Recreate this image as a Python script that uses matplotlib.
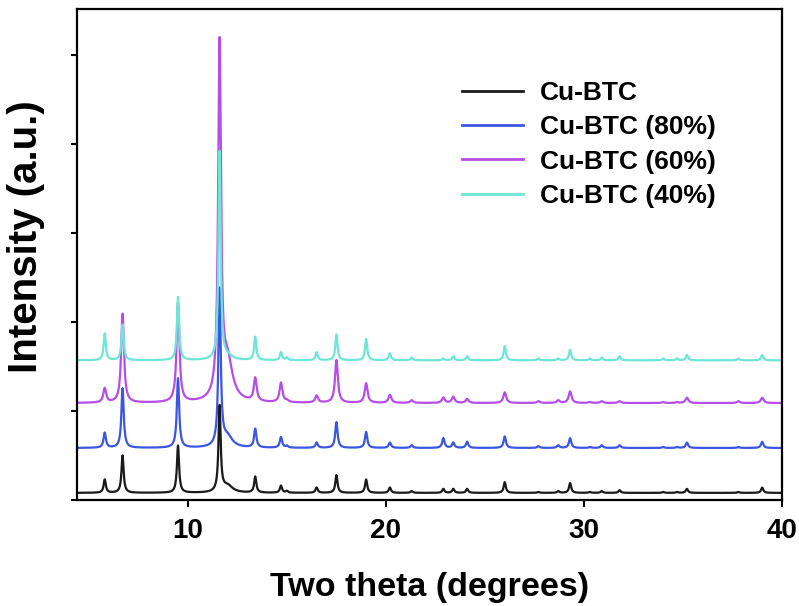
import numpy as np
import matplotlib
matplotlib.use("Agg")
import matplotlib.pyplot as plt

# Peak positions (two theta, degrees) shared by all Cu-BTC patterns
peak_pos = [5.8, 6.7, 9.5, 11.6, 13.4, 14.7, 15.0, 16.5, 17.5, 19.0, 20.2, 21.3,
            22.9, 23.4, 24.1, 26.0, 27.7, 28.7, 29.3, 30.3, 30.9, 31.8, 34.0,
            34.7, 35.2, 37.8, 39.0]

# peak heights (a.u.)
h_cubtc = [0.15, 0.42, 0.53, 0.96, 0.18, 0.08, 0.02, 0.06, 0.20, 0.15, 0.06, 0.02,
           0.045, 0.045, 0.045, 0.12, 0.01, 0.02, 0.11, 0.01, 0.02, 0.03, 0.01,
           0.01, 0.045, 0.01, 0.06]
h_80 = [0.17, 0.67, 0.78, 1.76, 0.21, 0.12, 0.02, 0.06, 0.29, 0.18, 0.06, 0.03,
        0.11, 0.06, 0.07, 0.13, 0.02, 0.03, 0.11, 0.01, 0.03, 0.03, 0.01,
        0.01, 0.06, 0.01, 0.07]
h_60 = [0.16, 1.00, 1.12, 3.95, 0.26, 0.22, 0.02, 0.08, 0.48, 0.22, 0.09, 0.03,
        0.06, 0.07, 0.045, 0.12, 0.02, 0.03, 0.13, 0.01, 0.02, 0.02, 0.01,
        0.01, 0.06, 0.02, 0.06]
h_40 = [0.30, 0.40, 0.71, 2.34, 0.26, 0.09, 0.03, 0.09, 0.29, 0.24, 0.08, 0.03,
        0.02, 0.045, 0.045, 0.16, 0.02, 0.02, 0.12, 0.02, 0.03, 0.045, 0.02,
        0.02, 0.06, 0.02, 0.06]

# broad hump just after the 11.6 peak
tail_pos = 12.0
tail_h = [0.08, 0.12, 0.45, 0.04]

baselines = [0.08, 0.585, 1.09, 1.57]
labels = ["Cu-BTC", "Cu-BTC (80%)", "Cu-BTC (60%)", "Cu-BTC (40%)"]
colors = ["#1a1a1a", "#3b56e0", "#b54ee8", "#6de6d6"]
widths = [0.065, 0.07, 0.085, 0.065]

two_theta = np.arange(4.4, 40.0001, 0.02)


def pattern(heights, w, tail):
    y = np.zeros_like(two_theta)
    for c, h in zip(peak_pos, heights):
        y += h / (1 + ((two_theta - c) / w) ** 2)
    y += tail / (1 + ((two_theta - tail_pos) / 0.3) ** 2)
    return y


fig = plt.figure(figsize=(7.99, 6.06), dpi=100)
ax = fig.add_axes([77 / 799, 1 - 500 / 606, 705 / 799, 491 / 606])

for i, hs in enumerate([h_cubtc, h_80, h_60, h_40]):
    ax.plot(two_theta, baselines[i] + pattern(hs, widths[i], tail_h[i]),
            color=colors[i], lw=1.6, label=labels[i])

ax.set_xlim(4.4, 40)
ax.set_ylim(0, 5.52)
ax.set_xticks([10, 20, 30, 40])
ax.set_yticks([0, 1, 2, 3, 4, 5])
ax.set_yticklabels([])
ax.tick_params(axis="both", direction="out", width=1.5)
ax.tick_params(axis="x", length=5, pad=8)
ax.tick_params(axis="y", length=4.5)
for s in ax.spines.values():
    s.set_linewidth(1.6)

font = ["Liberation Sans", "DejaVu Sans"]
for t in ax.get_xticklabels():
    t.set_family(font)
    t.set_fontweight("bold")
    t.set_fontsize(20)

ax.set_xlabel("Two theta (degrees)", family=font, fontweight="bold",
              fontsize=24.5, labelpad=20)
ax.set_ylabel("Intensity (a.u.)", family=font, fontweight="bold",
              fontsize=29)
ax.yaxis.set_label_coords(-0.045, 0.536)

leg = ax.legend(loc="upper left", bbox_to_anchor=(462 / 799, 1 - 81 / 606),
                bbox_transform=fig.transFigure, frameon=False,
                prop={"family": font, "weight": "bold", "size": 19},
                handlelength=2.3, handletextpad=0.65, labelspacing=0.39,
                borderpad=0, borderaxespad=0)
for line in leg.get_lines():
    line.set_linewidth(2.0)

fig.savefig("out.png", dpi=100)
